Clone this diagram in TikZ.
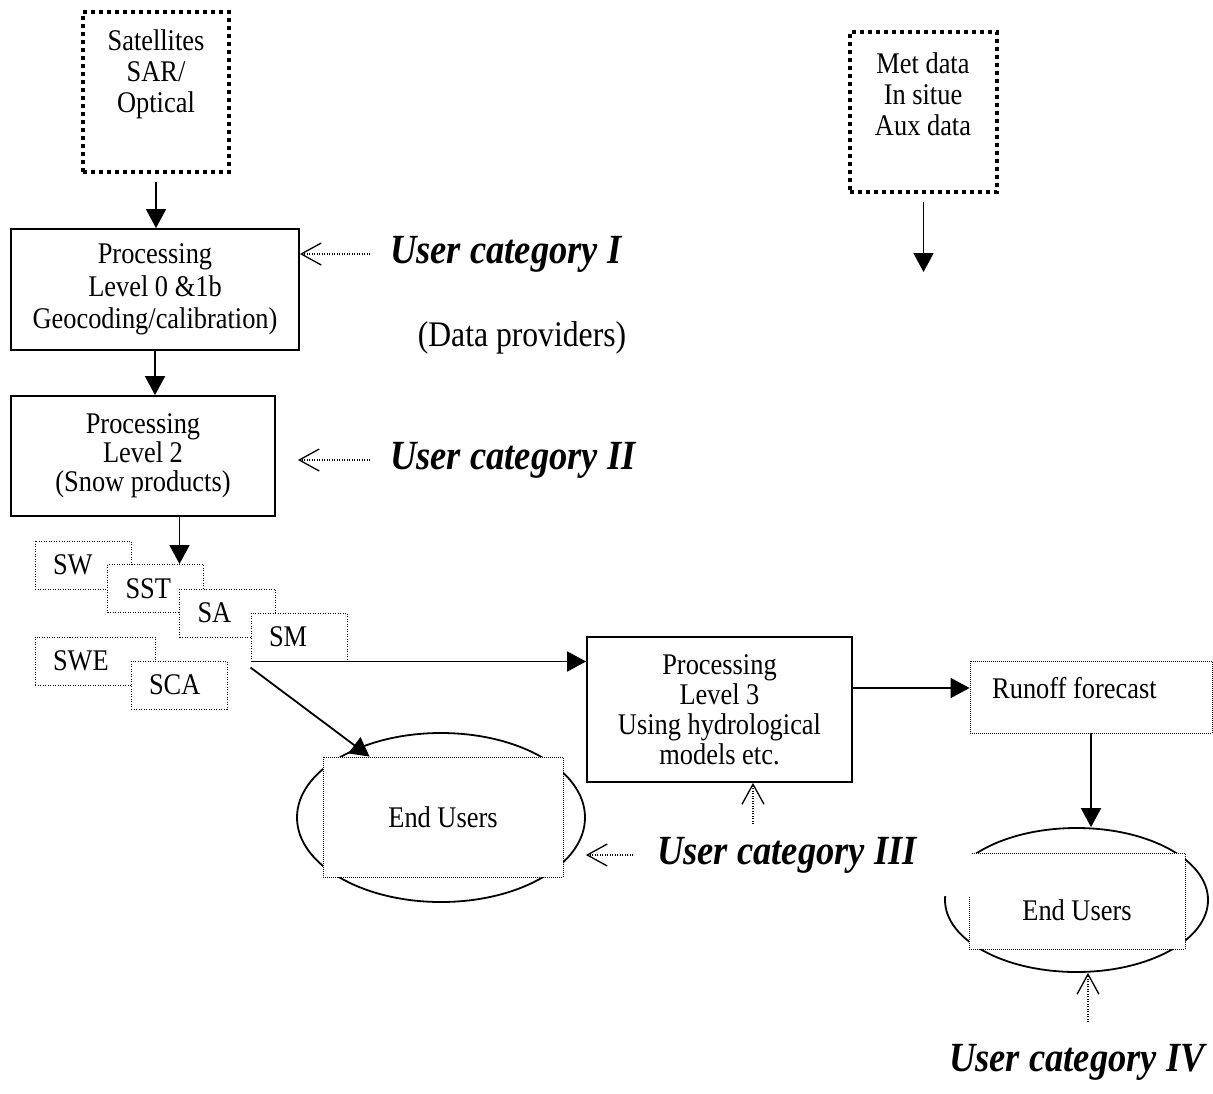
\documentclass[tikz,border=0pt]{standalone}
\usepackage{fontspec}
\setmainfont{Liberation Serif}[FakeStretch=0.88]
\usetikzlibrary{arrows.meta,shapes.geometric}

\tikzset{
  every node/.style={font=\fontsize{30}{31}\selectfont, inner sep=0pt, align=center},
  srcbox/.style={draw, line width=4pt, dash pattern=on 4pt off 4pt, minimum width=146pt, minimum height=160pt},
  procbox/.style={draw, line width=1.8pt, fill=white},
  prodbox/.style={draw, fill=white, line width=1pt, dash pattern=on 1pt off 1.5pt,
    minimum height=48pt, text width=#1, align=left, inner xsep=18pt},
  prodbox/.default=60pt,
  thinbox/.style={draw, fill=white, line width=0.8pt, dash pattern=on 1pt off 1pt},
  userell/.style={draw, ellipse, line width=1.8pt},
  usercat/.style={font=\fontsize{41.5}{45}\selectfont\bfseries\itshape},
  flow/.style={line width=1.8pt, -{Triangle[length=19pt,width=20pt]}},
  catarrow/.style={line width=1.2pt, dash pattern=on 1pt off 1.5pt,
    -{Straight Barb[length=20pt,width=22pt,line width=1.3pt]}}
}

\begin{document}
\begin{tikzpicture}[x=1pt, y=-1pt]
\useasboundingbox (0,0) rectangle (1213,1093);

% data sources
\node[srcbox] at (156, 92) (sat) {};
\node at (156, 74) (sattext) {Satellites\\SAR/\\Optical};
\node[srcbox, minimum width=147pt] at (923.5, 112) (met) {};
\node at (923, 94) (mettext) {Met data\\In situe\\Aux data};
\coordinate (metend) at (923.5, 272);

% processing chain
\node[procbox, minimum width=288pt, minimum height=121pt,
  font=\fontsize{30}{32.5}\selectfont] at (155, 289.5) (lvl0)
  {Processing\\Level 0 \&1b\\Geocoding/calibration)};
\node[procbox, minimum width=264pt, minimum height=120pt,
  font=\fontsize{30}{29}\selectfont] at (143, 456) (lvl2)
  {Processing\\Level 2\\(Snow products)};
\node[procbox, minimum width=265pt, minimum height=145pt,
  font=\fontsize{30}{30}\selectfont] at (719.5, 709.5) (lvl3)
  {Processing\\Level 3\\Using hydrological\\models etc.};

% snow products
\node[prodbox] at (83, 565) (sw) {SW};
\node[prodbox] at (155.5, 588.5) (sst) {SST};
\node[prodbox] at (227.5, 613) (sa) {SA};
\node[prodbox] at (299, 637) (sm) {SM};
\node[prodbox=84pt] at (95, 661) (swe) {SWE};
\node[prodbox] at (179, 685) (sca) {SCA};

% runoff
\node[thinbox, minimum width=242pt, minimum height=72pt] at (1091, 697) (runoff) {};
\node[anchor=west] at (992, 688) (runtxt) {Runoff forecast};

% end users
\node[userell, minimum width=288pt, minimum height=169pt] at (441, 817.5) (eu1ell) {};
\node[thinbox, minimum width=240pt, minimum height=120pt] at (443, 817) (eu1) {End Users};
\node[userell, minimum width=263pt, minimum height=144pt] at (1076.5, 900) (eu2ell) {};
\node[thinbox, minimum width=216pt, minimum height=96pt] at (1077, 901) (eu2) {};
\fill[white] (937, 851) rectangle (971.5, 896);
\node at (1077, 910) (eu2txt) {End Users};

% user categories
\node[usercat, anchor=west] at (390, 254) (uc1) {User category I};
\node[font=\fontsize{36}{39}\selectfont] at (522, 338) (dataprov) {(Data providers)};
\node[usercat, anchor=west] at (390, 460) (uc2) {User category II};
\node[usercat, anchor=west] at (657, 855) (uc3) {User category III};
\node[usercat] at (1077, 1062) (uc4) {User category IV};
\coordinate (uc3up) at (753, 824);
\coordinate (uc4up) at (1088, 1022);

% flow arrows
\draw[flow, shorten <=8pt] (sat.south) -- (sat.south |- lvl0.north);
\draw[flow, shorten <=8pt] (met.south) -- (metend);
\draw[flow] (lvl0.south) -- (lvl0.south |- lvl2.north);
\draw[flow] ([xshift=24pt]sst.north |- lvl2.south) -- ([xshift=24pt]sst.north);
\draw[flow] (sm.south west) -- (sm.south west -| lvl3.west);
\draw[flow] ([yshift=-6pt]sm.south west) -- ([xshift=47pt]eu1.north west);
\draw[flow] (lvl3.east |- runtxt.west) -- (runoff.west |- runtxt.west);
\draw[flow] (runoff.south) -- (runoff.south |- eu2ell.north);

% category pointers
\draw[catarrow, shorten <=20pt] (uc1.west) -- (lvl0.east |- uc1.west);
\draw[catarrow, shorten <=20pt, shorten >=22pt] (uc2.west) -- (lvl2.east |- uc2.west);
\draw[catarrow, shorten <=24pt] (uc3.west) -- (eu1ell.east |- uc3.west);
\draw[catarrow] (uc3up) -- (uc3up |- lvl3.south);
\draw[catarrow] (uc4up) -- (uc4up |- eu2ell.south);

\end{tikzpicture}
\end{document}
